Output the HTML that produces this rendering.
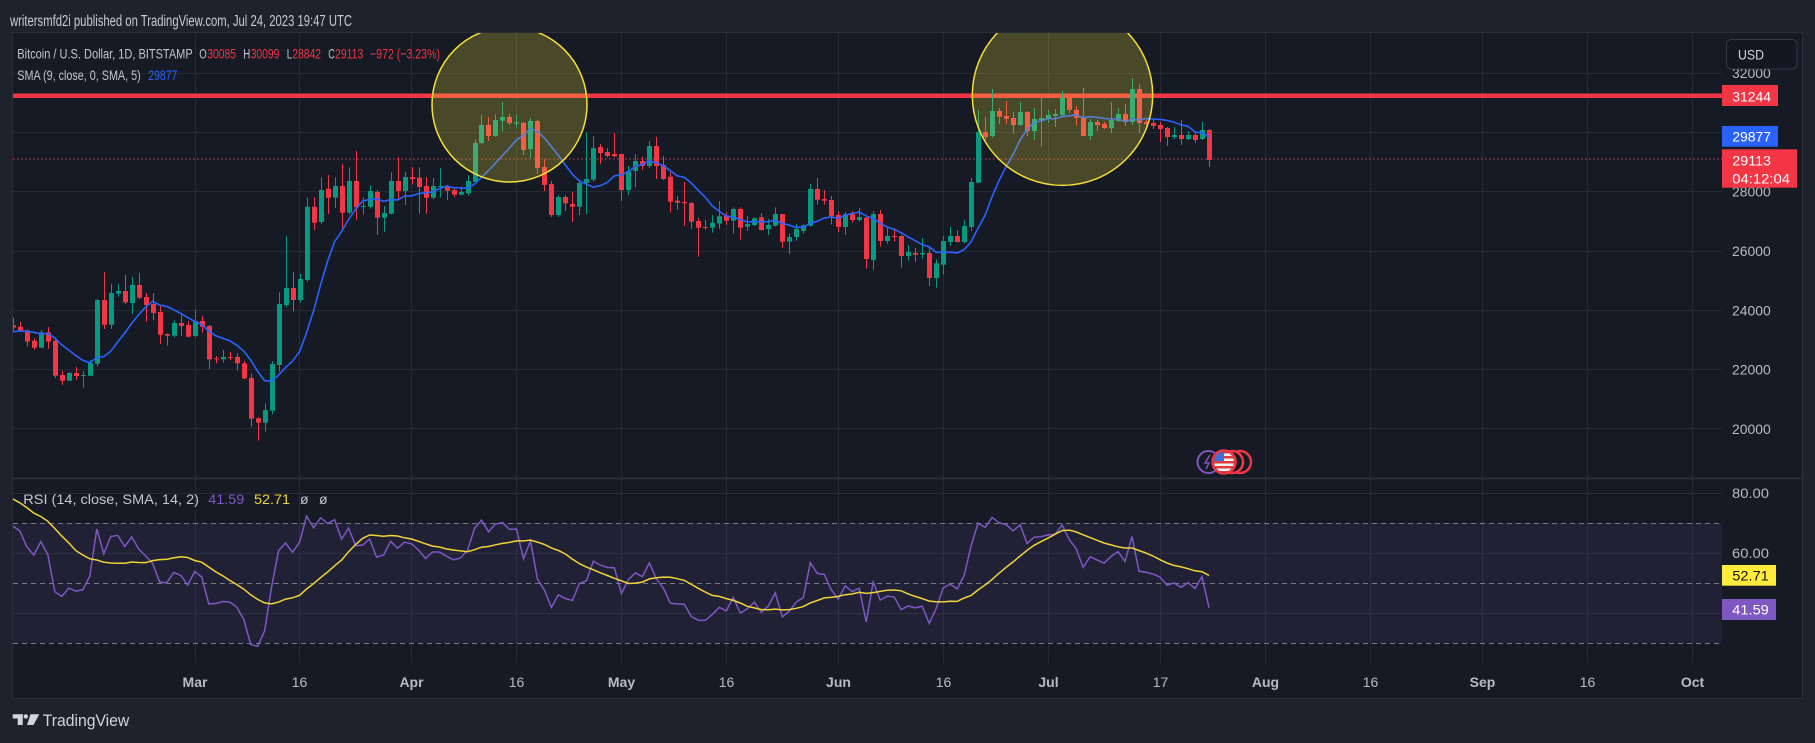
<!DOCTYPE html>
<html><head><meta charset="utf-8">
<style>
html,body{margin:0;padding:0;background:#1e222d;width:1815px;height:743px;overflow:hidden}
svg{display:block}
text{font-family:"Liberation Sans",sans-serif}
</style></head><body>
<svg id="s" width="1815" height="743" viewBox="0 0 1815 743" xmlns="http://www.w3.org/2000/svg">
<defs>
<clipPath id="cm"><rect x="13" y="33" width="1709" height="445"/></clipPath>
<clipPath id="cr"><rect x="13" y="479" width="1709" height="184"/></clipPath>
<clipPath id="cf"><circle cx="1224" cy="462" r="10"/></clipPath>
</defs>
<rect width="1815" height="743" fill="#1e222d"/>
<rect x="12.5" y="32.5" width="1790" height="666" fill="#161a25" stroke="#2a2e39"/>

<g stroke="#262a35" stroke-width="1">
<line x1="13" x2="1722" y1="73.5" y2="73.5"/>
<line x1="13" x2="1722" y1="132.5" y2="132.5"/>
<line x1="13" x2="1722" y1="191.5" y2="191.5"/>
<line x1="13" x2="1722" y1="251.5" y2="251.5"/>
<line x1="13" x2="1722" y1="310.5" y2="310.5"/>
<line x1="13" x2="1722" y1="369.5" y2="369.5"/>
<line x1="13" x2="1722" y1="428.5" y2="428.5"/>
<line x1="13" x2="1722" y1="493.5" y2="493.5"/>
<line x1="13" x2="1722" y1="553.5" y2="553.5"/>
<line x1="13" x2="1722" y1="613.5" y2="613.5"/>
</g>
<g stroke="#262a35" stroke-width="1">
<line y1="33" y2="663" x1="195.5" x2="195.5"/>
<line y1="33" y2="663" x1="299.5" x2="299.5"/>
<line y1="33" y2="663" x1="411.5" x2="411.5"/>
<line y1="33" y2="663" x1="516.5" x2="516.5"/>
<line y1="33" y2="663" x1="621.5" x2="621.5"/>
<line y1="33" y2="663" x1="726.5" x2="726.5"/>
<line y1="33" y2="663" x1="838.5" x2="838.5"/>
<line y1="33" y2="663" x1="943.5" x2="943.5"/>
<line y1="33" y2="663" x1="1048.5" x2="1048.5"/>
<line y1="33" y2="663" x1="1160.5" x2="1160.5"/>
<line y1="33" y2="663" x1="1265.5" x2="1265.5"/>
<line y1="33" y2="663" x1="1370.5" x2="1370.5"/>
<line y1="33" y2="663" x1="1482.5" x2="1482.5"/>
<line y1="33" y2="663" x1="1587.5" x2="1587.5"/>
<line y1="33" y2="663" x1="1692.5" x2="1692.5"/>
</g>

<!-- RSI band -->
<rect x="13" y="523" width="1709" height="120" fill="rgba(126,87,194,0.11)"/>
<g stroke="#787b86" stroke-width="1" stroke-dasharray="5 4">
<line x1="13" x2="1722" y1="523.5" y2="523.5"/>
<line x1="13" x2="1722" y1="583.5" y2="583.5"/>
<line x1="13" x2="1722" y1="643.5" y2="643.5"/>
</g>
<!-- pane separator -->
<line x1="13" x2="1802" y1="478.5" y2="478.5" stroke="#2d313c" stroke-width="1.5"/>

<!-- horizontal red line & dotted last price -->
<rect x="13" y="93.5" width="1709" height="4.5" fill="#f23645"/>
<line x1="13" x2="1722" y1="159" y2="159" stroke="#f23645" stroke-width="1" stroke-dasharray="1.5 2.5"/>

<g id="candles" clip-path="url(#cm)"></g>
<g clip-path="url(#cm)"><path id="sma" d="" fill="none" stroke="#2962ff" stroke-width="1.6"/></g>

<!-- circles -->
<g clip-path="url(#cm)">
<circle cx="509.5" cy="104.5" r="77.5" fill="rgba(255,235,59,0.22)" stroke="#f5e03a" stroke-width="1.5"/>
<circle cx="1062.5" cy="95.2" r="90.2" fill="rgba(255,235,59,0.22)" stroke="#f5e03a" stroke-width="1.5"/>
</g>

<g clip-path="url(#cr)">
<path id="rsi" d="" fill="none" stroke="#7e57c2" stroke-width="1.5"/>
<path id="rsima" d="" fill="none" stroke="#f0d43a" stroke-width="1.5"/>
</g>

<!-- event icons -->
<circle cx="1208.5" cy="462" r="11" fill="#161a25" stroke="#7e57c2" stroke-width="2"/>
<path d="M1210 455 L1205 463 L1209 463 L1206 469" fill="none" stroke="#7e57c2" stroke-width="1.5"/>
<circle cx="1240" cy="462" r="11" fill="#161a25" stroke="#f23645" stroke-width="2.5"/>
<circle cx="1232" cy="462" r="11" fill="#161a25" stroke="#f23645" stroke-width="2.5"/>
<circle cx="1224" cy="462" r="11.5" fill="#161a25" stroke="#f23645" stroke-width="2.5"/>
<g clip-path="url(#cf)">
<rect x="1213" y="451" width="22" height="22" fill="#f2f2f2"/>
<rect x="1213" y="451" width="22" height="2.5" fill="#e0393e"/>
<rect x="1213" y="456" width="22" height="2.5" fill="#e0393e"/>
<rect x="1213" y="461" width="22" height="2.5" fill="#e0393e"/>
<rect x="1213" y="466" width="22" height="2.5" fill="#e0393e"/>
<rect x="1213" y="471" width="22" height="2.5" fill="#e0393e"/>
<rect x="1213" y="451" width="11" height="10" fill="#3c6fd8"/>
</g>

<!-- legends -->
<text x="10" y="26" font-size="15.5" fill="#c9ccd4" textLength="342" lengthAdjust="spacingAndGlyphs">writersmfd2i published on TradingView.com, Jul 24, 2023 19:47 UTC</text>
<g font-size="14">
<text x="17.3" y="58.3" fill="#c3c6ce" textLength="175.4" lengthAdjust="spacingAndGlyphs">Bitcoin / U.S. Dollar, 1D, BITSTAMP</text>
<text x="199.3" y="58.3" fill="#c3c6ce" textLength="7.5" lengthAdjust="spacingAndGlyphs">O</text>
<text x="207.3" y="58.3" fill="#f23645" textLength="28.7" lengthAdjust="spacingAndGlyphs">30085</text>
<text x="243.3" y="58.3" fill="#c3c6ce" textLength="7" lengthAdjust="spacingAndGlyphs">H</text>
<text x="250.7" y="58.3" fill="#f23645" textLength="28.6" lengthAdjust="spacingAndGlyphs">30099</text>
<text x="286.7" y="58.3" fill="#c3c6ce" textLength="5.3" lengthAdjust="spacingAndGlyphs">L</text>
<text x="292.3" y="58.3" fill="#f23645" textLength="28.7" lengthAdjust="spacingAndGlyphs">28842</text>
<text x="328.3" y="58.3" fill="#c3c6ce" textLength="6.5" lengthAdjust="spacingAndGlyphs">C</text>
<text x="335" y="58.3" fill="#f23645" textLength="28.3" lengthAdjust="spacingAndGlyphs">29113</text>
<text x="370" y="58.3" fill="#f23645" textLength="70" lengthAdjust="spacingAndGlyphs">−972 (−3.23%)</text>
<text x="17.3" y="80" fill="#c3c6ce" textLength="123.4" lengthAdjust="spacingAndGlyphs">SMA (9, close, 0, SMA, 5)</text>
<text x="148.3" y="80" fill="#2962ff" textLength="29" lengthAdjust="spacingAndGlyphs">29877</text>
<text x="23.3" y="504" fill="#c3c6ce" textLength="175.7" lengthAdjust="spacingAndGlyphs">RSI (14, close, SMA, 14, 2)</text>
<text x="208.3" y="504" fill="#7e57c2" textLength="36" lengthAdjust="spacingAndGlyphs">41.59</text>
<text x="254" y="504" fill="#f0d43a" textLength="36" lengthAdjust="spacingAndGlyphs">52.71</text>
<text x="300" y="504" fill="#c3c6ce">ø</text>
<text x="319" y="504" fill="#c3c6ce">ø</text>
</g>

<!-- price axis -->
<g font-size="14" fill="#b8bbc3">
<text x="1732" y="78" textLength="38.7" lengthAdjust="spacingAndGlyphs">32000</text>
<text x="1732" y="196.7" textLength="38.7" lengthAdjust="spacingAndGlyphs">28000</text>
<text x="1732" y="256" textLength="38.7" lengthAdjust="spacingAndGlyphs">26000</text>
<text x="1732" y="315.3" textLength="38.7" lengthAdjust="spacingAndGlyphs">24000</text>
<text x="1732" y="374.6" textLength="38.7" lengthAdjust="spacingAndGlyphs">22000</text>
<text x="1732" y="434" textLength="38.7" lengthAdjust="spacingAndGlyphs">20000</text>
<text x="1732" y="498" textLength="37" lengthAdjust="spacingAndGlyphs">80.00</text>
<text x="1732" y="558" textLength="37" lengthAdjust="spacingAndGlyphs">60.00</text>
</g>
<rect x="1726.5" y="39.5" width="70.5" height="29.5" rx="5" fill="#131722" stroke="#363a45"/>
<text x="1738" y="59.5" font-size="14" fill="#d1d4dc" textLength="26" lengthAdjust="spacingAndGlyphs">USD</text>

<rect x="1722" y="85" width="56" height="21" fill="#f23645"/>
<text x="1732.3" y="101.3" font-size="14" fill="#ffffff" textLength="38.7" lengthAdjust="spacingAndGlyphs">31244</text>
<rect x="1722" y="126" width="56" height="20.7" fill="#2962ff"/>
<text x="1732.3" y="141.6" font-size="14" fill="#ffffff" textLength="38.7" lengthAdjust="spacingAndGlyphs">29877</text>
<rect x="1722" y="149.3" width="75" height="38.4" fill="#f23645"/>
<text x="1732.3" y="165.6" font-size="14" fill="#ffffff" textLength="38.7" lengthAdjust="spacingAndGlyphs">29113</text>
<text x="1732.3" y="183.3" font-size="14" fill="#ffffff" textLength="57.7" lengthAdjust="spacingAndGlyphs">04:12:04</text>

<rect x="1722" y="565" width="54" height="20.7" fill="#ffeb3b"/>
<text x="1732.3" y="580.6" font-size="14" fill="#131722" textLength="36.5" lengthAdjust="spacingAndGlyphs">52.71</text>
<rect x="1722" y="599" width="54" height="21" fill="#7e57c2"/>
<text x="1732.3" y="614.6" font-size="14" fill="#ffffff" textLength="36.5" lengthAdjust="spacingAndGlyphs">41.59</text>

<!-- time axis -->
<g font-size="14" fill="#b8bbc3" text-anchor="middle">
<text x="195" y="687" font-weight="bold">Mar</text>
<text x="299.5" y="687">16</text>
<text x="411.5" y="687" font-weight="bold">Apr</text>
<text x="516.5" y="687">16</text>
<text x="621.5" y="687" font-weight="bold">May</text>
<text x="726.5" y="687">16</text>
<text x="838.5" y="687" font-weight="bold">Jun</text>
<text x="943.5" y="687">16</text>
<text x="1048.5" y="687" font-weight="bold">Jul</text>
<text x="1160.5" y="687">17</text>
<text x="1265.5" y="687" font-weight="bold">Aug</text>
<text x="1370.5" y="687">16</text>
<text x="1482.5" y="687" font-weight="bold">Sep</text>
<text x="1587.5" y="687">16</text>
<text x="1692.5" y="687" font-weight="bold">Oct</text>
</g>

<!-- logo -->
<g fill="#d1d4dc">
<rect x="12.7" y="714.3" width="10" height="4.2"/>
<rect x="17.7" y="714.3" width="5" height="10.7"/>
<circle cx="25.8" cy="716.4" r="2.2"/>
<polygon points="30.5,714.3 39.3,714.3 33.5,725 27,725"/>
</g>
<text x="42.7" y="726" font-size="17" fill="#d1d4dc" textLength="86.6" lengthAdjust="spacingAndGlyphs">TradingView</text>
</svg>
<script>
(function(){
var A=[[226,233,203,245],[230,243,215,245],[241,275,238,290],[272,293,265,300],[293,247,240,295],[247,275,231,297],[272,377,268,384],[375,392,362,405],[392,369,366,393],[369,378,351,389],[377,375,363,413],[377,339,330,378],[341,150,147,350],[150,224,66,237],[224,129,102,236],[131,123,102,140],[123,157,75,162],[159,105,81,192],[105,143,69,147],[141,165,129,215],[162,189,129,211],[186,254,168,282],[252,257,250,287],[257,219,211,263],[219,228,190,258],[225,260,213,262],[258,213,180,262],[213,230,198,248],[228,328,225,357],[325,327,318,340],[328,321,300,338],[321,323,306,331],[321,340,310,362],[340,385,333,388],[384,506,371,530],[505,518,502,572],[518,480,460,545],[482,342,333,493],[345,162,127,365],[165,114,-41,172],[114,150,66,185],[150,87,72,158]];
var B=[[600,380,352,605],[380,428,352,450],[426,330,292,432],[326,353,285,402],[353,318,292,384],[318,398,252,452],[398,303,262,404],[303,382,213,419],[380,378,352,404],[380,333,316,386],[336,413,330,465],[413,399,378,455],[401,303,277,403],[303,333,232,358],[333,291,275,375],[291,297,262,313],[293,321,262,401],[318,353,291,401],[353,318,294,358],[321,318,265,353],[318,332,315,360],[330,344,322,352],[344,336,320,345],[340,303,286,347],[306,189,178,306],[189,135,106,192],[135,168,111,183],[168,120,103,170],[122,111,66,155],[111,129,102,135],[131,127,105,143],[128,210,127,225],[207,123,114,234],[123,264,120,282],[261,315,238,333],[312,405,303,411],[405,351,346,411],[351,370,346,393],[372,380,336,426],[380,309,300,405],[309,297,157,402],[299,204,168,305],[201,219,192,252],[216,228,204,232],[222,229,159,231],[222,330,222,363],[330,273,258,345],[273,243,222,321],[243,258,230,270],[258,198,183,264],[198,258,171,297]];
var C=[[135,177,108,180],[170,245,157,278],[242,248,228,270],[246,250,186,318],[249,305,246,327],[303,323,294,410],[321,324,300,330],[323,308,285,338],[311,289,243,327],[288,302,277,315],[302,267,262,341],[267,323,262,359],[320,312,288,333],[315,295,292,318],[292,330,279,332],[327,315,297,345],[317,282,262,320],[282,365,282,383],[365,351,340,402],[351,327,311,362],[333,316,313,341],[317,207,192,320],[207,239,174,254],[237,242,210,254],[240,289,228,314],[285,321,273,336],[321,282,276,345],[282,300,273,308],[300,291,264,305],[293,417,291,446],[420,282,273,449],[282,363,270,380],[363,348,321,371],[348,351,324,365],[348,408,345,443],[408,396,375,422],[399,404,384,425],[403,399,354,416],[399,474,384,498],[474,430,418,503],[434,363,348,464],[366,348,321,377],[348,366,330,368]];
var D=[[636,588,570,640],[591,456,444,603],[458,306,240,460],[306,321,260,330],[318,243,177,323],[243,260,234,282],[258,266,213,282],[264,285,246,312],[285,246,216,288],[246,303,243,318],[303,267,234,330],[270,264,195,350],[267,255,240,279],[258,252,237,291],[255,204,183,258],[204,240,189,249],[240,264,228,287],[261,318,174,318],[318,276,267,330],[276,285,270,303],[282,294,276,297],[294,270,216,309],[273,252,234,276],[252,276,222,288],[276,177,144,285],[177,279,162,309],[276,282,270,285],[279,288,267,297],[285,297,276,336],[294,321,291,348],[321,315,291,327],[315,327,270,345],[327,315,303,330],[315,330,309,339],[327,300,276,330],[300,390,297,411]];
var segs=[[-26,250,A],[16,80,B],[67,120,C],[110,30,D]];
function X(d){return 194.7+6.995*d;}
function PY(p){return 191.7+(28000-p)*0.02965;}
function YP(y){return 28000-(y-191.7)/0.02965;}
var bars=[];
segs.forEach(function(s){s[2].forEach(function(v,i){bars.push({d:s[0]+i,o:s[1]+v[0]/3,c:s[1]+v[1]/3,h:s[1]+v[2]/3,l:s[1]+v[3]/3});});});
var g=document.getElementById("candles");
var html="";
bars.forEach(function(b){
  var green=b.c<b.o;
  var col=green?"#089981":"#f23645";
  var cx=Math.round(X(b.d));
  var top=Math.min(b.o,b.c),bh=Math.max(1,Math.abs(b.o-b.c));
  html+='<rect x="'+cx+'" y="'+b.h.toFixed(1)+'" width="1" height="'+(b.l-b.h).toFixed(1)+'" fill="'+col+'"/>';
  html+='<rect x="'+(cx-2)+'" y="'+top.toFixed(1)+'" width="5" height="'+bh.toFixed(1)+'" fill="'+col+'"/>';
});
g.innerHTML=html;
var preS=[23010,23080,23030,23745,22830,23130,23730,23490];
var closes=bars.map(function(b){return YP(b.c);});
var sc=preS.concat(closes);
var sp="";
for(var i=0;i<bars.length;i++){
  var k=i+8,s=0;for(var j=k-8;j<=k;j++)s+=sc[j];
  var y=PY(s/9);
  sp+=(i?"L":"M")+X(bars[i].d).toFixed(1)+" "+y.toFixed(1);
}
document.getElementById("sma").setAttribute("d",sp);
var pre=[17360,16630,16780,16740,16440,16900,16820,16820,16780,16840,16830,16920,16700,16540,16630,16600,16530,16615,16680,16675,16855,16830,16950,16945,17125,17180,17445,17945,18850,19930,20960,20880,21185,21135,20680,21080,22670,22780,22710,22920,22630,23060,23010,23080,23030,23745,22830,23130,23730,23490];
var all=pre.concat(closes);
var rsi=[];var ag=0,al=0;
for(var i=1;i<=14;i++){var ch=all[i]-all[i-1];if(ch>0)ag+=ch;else al-=ch;}
ag/=14;al/=14;rsi[14]=100-100/(1+ag/al);
for(var i=15;i<all.length;i++){var ch=all[i]-all[i-1];var gg=ch>0?ch:0,ll=ch<0?-ch:0;ag=(ag*13+gg)/14;al=(al*13+ll)/14;rsi[i]=al==0?100:100-100/(1+ag/al);}
function RY(r){return 583-(r-50)*3;}
var rp="",mp="";
var off=pre.length;
for(var i=0;i<bars.length;i++){
  var k=off+i;var x=X(bars[i].d).toFixed(1);
  rp+=(i?"L":"M")+x+" "+RY(rsi[k]).toFixed(1);
  var s=0;for(var j=k-13;j<=k;j++)s+=rsi[j];
  mp+=(i?"L":"M")+x+" "+RY(s/14).toFixed(1);
}
document.getElementById("rsi").setAttribute("d",rp);
document.getElementById("rsima").setAttribute("d",mp);
})();
</script>
</body></html>
